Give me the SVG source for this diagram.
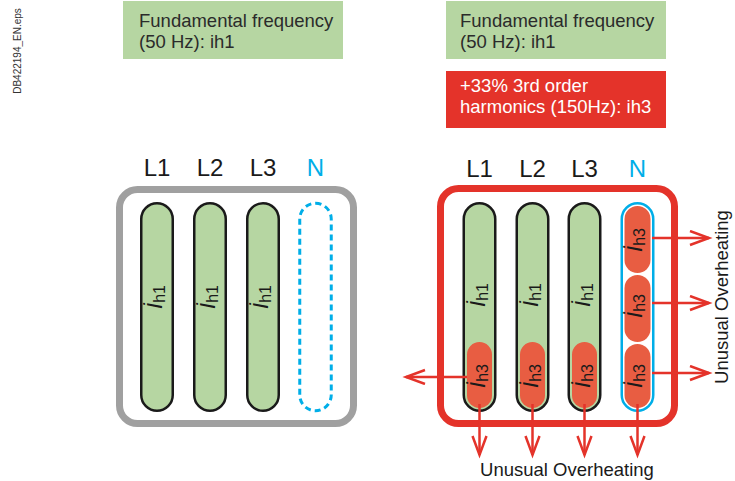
<svg xmlns="http://www.w3.org/2000/svg" width="735" height="481" viewBox="0 0 735 481">
<defs>
<style>
.t{font-family:"Liberation Sans",Arial,sans-serif;}
.box{font-size:18.5px;fill:#2b2b2b;}
.boxw{font-size:18.5px;fill:#ffffff;}
.lab{font-size:24px;fill:#1a1a1a;}
.labn{font-size:24px;fill:#00aee8;}
.ih{font-size:22px;fill:#1a1a1a;}
.sub{font-size:16px;}
.green{fill:#b6d6a2;stroke:#1a1a1a;stroke-width:2.5;}
.orange{fill:#e85d42;}
.arr{stroke:#e4332a;stroke-width:2.5;fill:none;}
</style>
<marker id="ah" markerUnits="userSpaceOnUse" markerWidth="24" markerHeight="18" refX="20" refY="8" orient="auto">
<path d="M1,1 L20,8 L1,15" fill="none" stroke="#e4332a" stroke-width="2.5"/>
</marker>
</defs>
<rect width="735" height="481" fill="#ffffff"/>

<text class="t" font-size="10" fill="#333" transform="translate(21,51) rotate(-90)" text-anchor="middle">DB422194_EN.eps</text>

<g id="legend-left">
<rect x="123" y="1" width="220" height="58" fill="#b6d6a2"/>
<text class="t box" x="139" y="27">Fundamental frequency</text>
<text class="t box" x="139" y="48">(50 Hz): ih1</text>
</g>
<g id="legend-right-h1">
<rect x="446" y="1" width="220" height="58" fill="#b6d6a2"/>
<text class="t box" x="460" y="27">Fundamental frequency</text>
<text class="t box" x="460" y="48">(50 Hz): ih1</text>
</g>
<g id="legend-right-h3">
<rect x="446" y="71" width="220" height="57" fill="#e4332a"/>
<text class="t boxw" x="460" y="92">+33% 3rd order</text>
<text class="t boxw" x="460" y="113">harmonics (150Hz): ih3</text>
</g>

<!-- Left panel -->
<g id="left-frame">
<rect x="119.5" y="189.5" width="234" height="234" rx="18" fill="none" stroke="#a0a0a0" stroke-width="7"/>
<text class="t lab" x="157" y="176" text-anchor="middle">L1</text>
<text class="t lab" x="210" y="176" text-anchor="middle">L2</text>
<text class="t lab" x="263" y="176" text-anchor="middle">L3</text>
<text class="t labn" x="315.5" y="176" text-anchor="middle">N</text>
</g>
<g id="left-L1">
<rect class="green" x="141.25" y="203.25" width="31.5" height="207.5" rx="15.75"/>
<text class="t ih" transform="translate(162,297) rotate(-90)" text-anchor="middle"><tspan font-style="italic">İ</tspan><tspan class="sub" dy="3">h1</tspan></text>
</g>
<g id="left-L2">
<rect class="green" x="194.25" y="203.25" width="31.5" height="207.5" rx="15.75"/>
<text class="t ih" transform="translate(215,297) rotate(-90)" text-anchor="middle"><tspan font-style="italic">İ</tspan><tspan class="sub" dy="3">h1</tspan></text>
</g>
<g id="left-L3">
<rect class="green" x="247.25" y="203.25" width="31.5" height="207.5" rx="15.75"/>
<text class="t ih" transform="translate(268,297) rotate(-90)" text-anchor="middle"><tspan font-style="italic">İ</tspan><tspan class="sub" dy="3">h1</tspan></text>
</g>
<g id="left-N">
<rect x="299.75" y="203.25" width="31.5" height="207.5" rx="15.75" fill="none" stroke="#00aee8" stroke-width="3" stroke-dasharray="6 4"/>
</g>

<!-- Right panel -->
<g id="right-frame">
<rect x="440.5" y="188.5" width="234" height="235" rx="18" fill="none" stroke="#e4332a" stroke-width="7"/>
<text class="t lab" x="479.5" y="177" text-anchor="middle">L1</text>
<text class="t lab" x="532.5" y="177" text-anchor="middle">L2</text>
<text class="t lab" x="584.5" y="177" text-anchor="middle">L3</text>
<text class="t labn" x="637.5" y="177" text-anchor="middle">N</text>
</g>
<g id="right-L1">
<rect class="green" x="463.75" y="203.25" width="31.5" height="207.5" rx="15.75"/>
<rect class="orange" x="467" y="342" width="25" height="66" rx="12.5"/>
<text class="t ih" transform="translate(484.5,295) rotate(-90)" text-anchor="middle"><tspan font-style="italic">İ</tspan><tspan class="sub" dy="3">h1</tspan></text>
<text class="t ih" transform="translate(484.5,376) rotate(-90)" text-anchor="middle"><tspan font-style="italic">İ</tspan><tspan class="sub" dy="3">h3</tspan></text>
</g>
<g id="right-L2">
<rect class="green" x="516.75" y="203.25" width="31.5" height="207.5" rx="15.75"/>
<rect class="orange" x="520" y="342" width="25" height="66" rx="12.5"/>
<text class="t ih" transform="translate(537.5,295) rotate(-90)" text-anchor="middle"><tspan font-style="italic">İ</tspan><tspan class="sub" dy="3">h1</tspan></text>
<text class="t ih" transform="translate(537.5,376) rotate(-90)" text-anchor="middle"><tspan font-style="italic">İ</tspan><tspan class="sub" dy="3">h3</tspan></text>
</g>
<g id="right-L3">
<rect class="green" x="568.75" y="203.25" width="31.5" height="207.5" rx="15.75"/>
<rect class="orange" x="572" y="342" width="25" height="66" rx="12.5"/>
<text class="t ih" transform="translate(589.5,295) rotate(-90)" text-anchor="middle"><tspan font-style="italic">İ</tspan><tspan class="sub" dy="3">h1</tspan></text>
<text class="t ih" transform="translate(589.5,376) rotate(-90)" text-anchor="middle"><tspan font-style="italic">İ</tspan><tspan class="sub" dy="3">h3</tspan></text>
</g>
<g id="right-N">
<rect x="621.75" y="203.25" width="31.5" height="207.5" rx="15.75" fill="#ffffff" stroke="#00aee8" stroke-width="2.5"/>
<rect class="orange" x="624.5" y="206" width="26" height="67" rx="13"/>
<rect class="orange" x="624.5" y="275" width="26" height="67" rx="13"/>
<rect class="orange" x="624.5" y="344" width="26" height="64" rx="13"/>
<text class="t ih" transform="translate(642,240) rotate(-90)" text-anchor="middle"><tspan font-style="italic">İ</tspan><tspan class="sub" dy="3">h3</tspan></text>
<text class="t ih" transform="translate(642,306) rotate(-90)" text-anchor="middle"><tspan font-style="italic">İ</tspan><tspan class="sub" dy="3">h3</tspan></text>
<text class="t ih" transform="translate(642,376) rotate(-90)" text-anchor="middle"><tspan font-style="italic">İ</tspan><tspan class="sub" dy="3">h3</tspan></text>
</g>

<g id="connectors">
<path class="arr" d="M652,238 H709" marker-end="url(#ah)"/>
<path class="arr" d="M652,303 H709" marker-end="url(#ah)"/>
<path class="arr" d="M652,373 H709" marker-end="url(#ah)"/>
<path class="arr" d="M467,377 H406" marker-end="url(#ah)"/>
<path class="arr" d="M479.5,404 V455" marker-end="url(#ah)"/>
<path class="arr" d="M532.5,404 V455" marker-end="url(#ah)"/>
<path class="arr" d="M584.5,404 V455" marker-end="url(#ah)"/>
<path class="arr" d="M637.5,404 V455" marker-end="url(#ah)"/>
</g>

<g id="overheating-labels">
<text class="t" font-size="18.5" fill="#1a1a1a" x="567" y="476" text-anchor="middle">Unusual Overheating</text>
<text class="t" font-size="18.5" fill="#1a1a1a" transform="translate(728,297) rotate(-90)" text-anchor="middle">Unusual Overheating</text>
</g>
</svg>
